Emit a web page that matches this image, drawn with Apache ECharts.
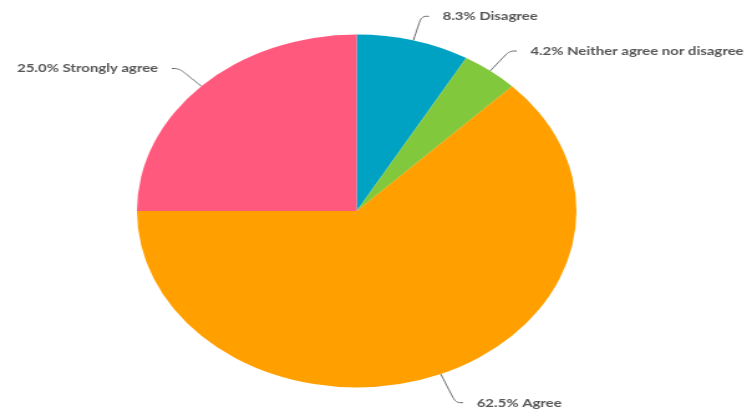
<!DOCTYPE html>
<html>
<head>
<meta charset="utf-8">
<script src="https://cdn.jsdelivr.net/npm/echarts@6/dist/echarts.min.js"></script>
<style>
  html, body { margin: 0; padding: 0; background: #fff; overflow: hidden; }
  #wrap { width: 747px; height: 410px; overflow: hidden; }
  /* pie is drawn round, then widened into an ellipse */
  #chart { width: 600px; height: 410px; transform: scaleX(1.245); transform-origin: 0 0; }
</style>
</head>
<body>
<div id="wrap"><div id="chart"></div></div>
<script>
const categories = ['Disagree', 'Neither agree nor disagree', 'Agree', 'Strongly agree'];
const shares = [8.3, 4.2, 62.5, 25.0];
const colors = ['#00A2C4', '#82C83C', '#FFA000', '#FF5A7D'];

const chart = echarts.init(document.getElementById('chart'), null, { renderer: 'canvas' });
chart.setOption({
  animation: false,
  color: colors,
  series: [{
    type: 'pie',
    center: [286.5, 211],
    radius: 176.5,
    startAngle: 90,
    clockwise: true,
    avoidLabelOverlap: false,
    data: categories.map((name, i) => ({
      name,
      value: shares[i],
      labelLine: name === 'Agree' ? { length: 31 } : undefined
    })),
    label: {
      show: true,
      formatter: p => p.value.toFixed(1) + '% ' + p.name,
      color: '#555',
      fontFamily: 'Lato',
      fontSize: 12,
      fontWeight: 'bold',
      distanceToLabelLine: 11
    },
    labelLine: {
      show: true,
      smooth: 0.4,
      length: 25,
      length2: 6,
      lineStyle: { color: '#666', width: 1 }
    },
    itemStyle: { borderWidth: 0 },
    emphasis: { disabled: true }
  }]
});
</script>
</body>
</html>
